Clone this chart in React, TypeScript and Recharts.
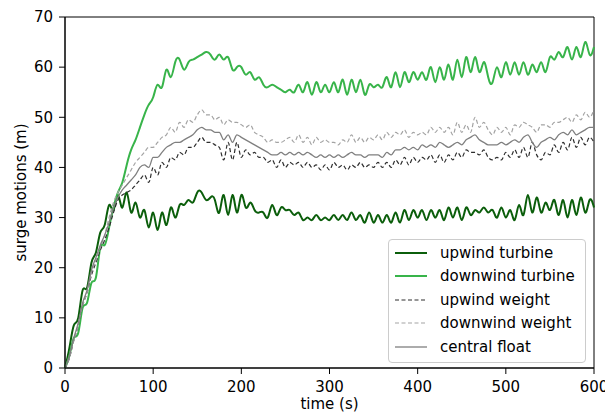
import React from "react";
import {
  LineChart,
  Line,
  XAxis,
  YAxis,
  Legend,
  ReferenceArea,
  Label,
} from "recharts";

// time samples (s), every 5 s
const TIME = [
  0, 5, 10, 15, 20, 25, 30, 35, 40, 45,
  50, 55, 60, 65, 70, 75, 80, 85, 90, 95,
  100, 105, 110, 115, 120, 125, 130, 135, 140, 145,
  150, 155, 160, 165, 170, 175, 180, 185, 190, 195,
  200, 205, 210, 215, 220, 225, 230, 235, 240, 245,
  250, 255, 260, 265, 270, 275, 280, 285, 290, 295,
  300, 305, 310, 315, 320, 325, 330, 335, 340, 345,
  350, 355, 360, 365, 370, 375, 380, 385, 390, 395,
  400, 405, 410, 415, 420, 425, 430, 435, 440, 445,
  450, 455, 460, 465, 470, 475, 480, 485, 490, 495,
  500, 505, 510, 515, 520, 525, 530, 535, 540, 545,
  550, 555, 560, 565, 570, 575, 580, 585, 590, 595,
  600,
];

const upwindTurbine = [
  0, 4, 8.5, 10, 15.5, 16, 21, 23, 27, 28.5,
  32.5, 31.5, 34.5, 32, 35, 31, 33, 30, 31.5, 28,
  31, 27.5, 31, 28.5, 32, 30, 32.5, 32.5, 33.5, 33,
  35, 35, 33.5, 34, 33.5, 31, 34.5, 30.5, 34.5, 31,
  34.5, 32, 33, 31.5, 31, 31, 30, 32.5, 30.5, 32,
  31.5, 31.5, 30.5, 31, 29.5, 30, 29.5, 30.5, 29.5, 30,
  29.5, 30.5, 29.5, 30.5, 29.5, 31, 29.5, 30.5, 29, 31,
  29, 30.5, 29, 30.5, 29, 31, 29, 31.5, 29.5, 31.5,
  30, 31.5, 29.5, 31.5, 30, 31.5, 29.5, 32, 30, 32,
  29.5, 32, 30.5, 31.5, 31, 32, 31, 31.5, 30, 32,
  30, 31.5, 29.5, 32.5, 30.5, 34.5, 31, 34, 31, 33,
  31.5, 33.5, 30.5, 33.5, 30, 33.5, 30.5, 34, 31, 33.5,
  32,
];

const downwindTurbine = [
  0, 2.5, 6, 7, 12, 13, 17, 18, 24, 24.5,
  28, 32, 35, 37, 40.5, 43.5, 45.5, 48, 50.5, 52.5,
  54, 56.5, 56, 59.5, 58, 61, 61.5, 59.5, 61, 61.5,
  62, 62.5, 63, 62.5, 61.5, 62.5, 61.5, 62, 59.5, 60,
  60, 58.5, 59, 57.5, 58, 56.5, 56, 56.5, 56, 55.5,
  55, 55.5, 55, 56.5, 55, 57, 54.5, 57, 55, 56.5,
  55, 57, 55, 57.5, 54.5, 57.5, 55, 57.5, 54.5, 56.5,
  56, 56.5, 56, 58, 56, 59, 56, 59, 57, 59,
  57.5, 59, 57.5, 60, 57, 60, 57.5, 60.5, 57.5, 61.5,
  58, 62, 59, 62, 59, 61, 58, 57, 60, 58,
  61, 58.5, 61, 58.5, 61, 58.5, 60.5, 59, 61, 59,
  62, 61.5, 63, 62, 64, 61.5, 64, 62, 65, 62.5,
  64,
];

const upwindWeight = [
  0, 2, 5.5, 8.5, 12.5, 15, 18.5, 21, 23.5, 25.5,
  28, 31, 33.5, 34.5, 35, 35.5, 36.5, 37.5, 38.5, 37,
  40, 38.5, 41, 40, 42, 41.5, 43, 42.5, 44, 44,
  45, 46, 45, 45, 44.5, 44, 41.5, 45, 41.5, 45,
  42, 43.5, 42.5, 43, 42, 42, 41, 41.5, 40, 41.5,
  40, 41, 40.5, 41, 40, 41, 40, 40.5, 39.5, 40.5,
  39.5, 41, 40, 40.5, 39.5, 40.5, 40, 41, 40, 40.5,
  40, 41, 40, 41, 40, 41.5, 40.5, 42, 40.5, 42,
  41, 42, 41.5, 42.5, 41, 42.5, 41, 42.5, 41.5, 43,
  42, 43.5, 43, 43, 42.5, 43.5, 42, 41.5, 42, 41.5,
  43, 42, 43.5, 42, 44, 42, 45, 42.5, 41.5, 43,
  42.5, 44.5, 43, 45, 43.5, 46, 44, 46, 44.5, 46,
  45,
];

const downwindWeight = [
  0, 2, 5.5, 8.5, 12.5, 15, 19, 21.5, 24, 26.5,
  30, 33, 35, 36.5, 38, 39.5, 41, 42, 43, 44,
  44, 45, 46, 46.5, 48, 47, 49, 48, 49.5, 49,
  50.5, 51.5, 50.5, 50.5, 49.5, 50, 48.5, 49.5, 49, 49,
  48.5, 48, 48.5, 47, 46.5, 46, 45, 45.5, 45, 45,
  45.5, 46, 45, 46.5, 45, 46, 44.5, 46, 45, 45.5,
  45, 45, 44.5, 45.5, 45, 46.5, 45, 46, 45, 46,
  45.5, 46.5, 45.5, 47, 46, 47, 46.5, 47.5, 46, 47,
  46.5, 47, 46.5, 48, 47, 48, 47, 48, 46.5, 49,
  47, 48.5, 47, 50, 48, 49, 47.5, 46.5, 48, 47,
  48, 46.5, 48.5, 48, 49, 48.5, 48, 47, 48.5, 48.5,
  48, 49, 49, 49.5, 50, 49, 50.5, 49.5, 51, 50,
  51.5,
];

const centralFloat = [
  0, 2.5, 6, 9, 13, 15.5, 19.5, 22, 24.5, 26.5,
  29, 32, 34, 35.5, 36.5, 37.5, 38.5, 40, 40.5, 40,
  42, 42, 43, 44, 44.5, 45, 45, 45.5, 46, 46.5,
  47.5, 48, 47.5, 47.5, 47, 47, 45.5, 46.5, 45, 46.5,
  46, 45.5, 45, 44.5, 44, 43.5, 43, 42.5, 42.5, 43,
  42.5, 43, 42.5, 43, 42.5, 43, 42.5, 42, 42.5, 42,
  42.5, 42, 42.5, 42, 42.5, 43, 42.5, 42.5, 42, 42.5,
  42.5, 42.5, 42, 43, 42.5, 43.5, 43.5, 44, 43.5, 44,
  43.5, 44.5, 44, 44.5, 44, 45, 44.5, 44, 44.5, 45,
  44.5, 45.5, 46, 46.5, 45.5, 45, 44.5, 44.5, 44.5, 45,
  44.5, 45, 45.5, 45, 46, 46.5, 45, 44, 45, 45.5,
  46, 45.5, 46.5, 47, 46.5, 47.5, 46.5, 47, 47.5, 48,
  48,
];

const X_TICKS = [0, 100, 200, 300, 400, 500, 600];
const Y_TICKS = [0, 10, 20, 30, 40, 50, 60, 70];

const FONT = "'DejaVu Sans', sans-serif";

const SERIES = [
  { key: "ut", name: "upwind turbine", color: "#0b5e0b", width: 2, dash: undefined, curve: "natural" },
  { key: "dt", name: "downwind turbine", color: "#38b44a", width: 2, dash: undefined, curve: "natural" },
  { key: "uw", name: "upwind weight", color: "#2e2e2e", width: 1.2, dash: "4 2.5", curve: "monotone" },
  { key: "dw", name: "downwind weight", color: "#a3a3a3", width: 1.2, dash: "4 2.5", curve: "monotone" },
  { key: "cf", name: "central float", color: "#7f7f7f", width: 1.3, dash: undefined, curve: "monotone" },
];

const data = TIME.map((t, i) => ({
  t,
  ut: upwindTurbine[i],
  dt: downwindTurbine[i],
  uw: upwindWeight[i],
  dw: downwindWeight[i],
  cf: centralFloat[i],
}));

const LegendBox = () => (
  <div
    style={{
      border: "1px solid #cccccc",
      borderRadius: 4,
      background: "rgba(255,255,255,0.85)",
      padding: "1px 10px 3px 6px",
      fontFamily: FONT,
      fontSize: 15,
      color: "#000",
    }}
  >
    {SERIES.map((s) => (
      <div
        key={s.key}
        style={{ display: "flex", alignItems: "center", height: 23.5, whiteSpace: "nowrap" }}
      >
        <svg width={32} height={10}>
          <line
            x1={0}
            y1={5}
            x2={32}
            y2={5}
            stroke={s.color}
            strokeWidth={s.width}
            strokeDasharray={s.dash}
          />
        </svg>
        <span style={{ marginLeft: 13 }}>{s.name}</span>
      </div>
    ))}
  </div>
);

export default function App() {
  return (
    <LineChart
      width={605}
      height={404}
      data={data}
      margin={{ top: 9, right: 19, bottom: 0, left: 0 }}
    >
      <XAxis
        dataKey="t"
        type="number"
        domain={[0, 600]}
        ticks={X_TICKS}
        tickSize={6}
        tickMargin={7}
        height={44}
        stroke="#000"
        tick={{ fill: "#000", fontSize: 15, fontFamily: FONT }}
      >
        <Label
          content={() => (
            <text
              x={321.5}
              y={401}
              textAnchor="middle"
              fontFamily={FONT}
              fontSize={15}
              fill="#000"
            >
              time (s)
            </text>
          )}
        />
      </XAxis>
      <YAxis
        type="number"
        domain={[0, 70]}
        ticks={Y_TICKS}
        tickSize={6}
        tickMargin={6}
        width={57}
        stroke="#000"
        tick={{ fill: "#000", fontSize: 15, fontFamily: FONT }}
      >
        <Label
          content={() => (
            <text
              x={13}
              y={184.5}
              transform="rotate(-90 13 184.5)"
              textAnchor="middle"
              dominantBaseline="central"
              fontFamily={FONT}
              fontSize={15}
              fill="#000"
            >
              surge motions (m)
            </text>
          )}
        />
      </YAxis>
      <ReferenceArea
        x1={0}
        x2={600}
        y1={0}
        y2={70}
        fill="none"
        stroke="#000"
        strokeWidth={1}
        fillOpacity={0}
      />
      {SERIES.map((s) => (
        <Line
          key={s.key}
          dataKey={s.key}
          name={s.name}
          type={s.curve as "natural" | "monotone"}
          stroke={s.color}
          strokeWidth={s.width}
          strokeDasharray={s.dash}
          dot={false}
          activeDot={false}
          isAnimationActive={false}
        />
      ))}
      <Legend
        layout="horizontal"
        verticalAlign="middle"
        align="center"
        content={<LegendBox />}
        wrapperStyle={{ left: 380, top: 231, width: "auto" }}
      />
    </LineChart>
  );
}
